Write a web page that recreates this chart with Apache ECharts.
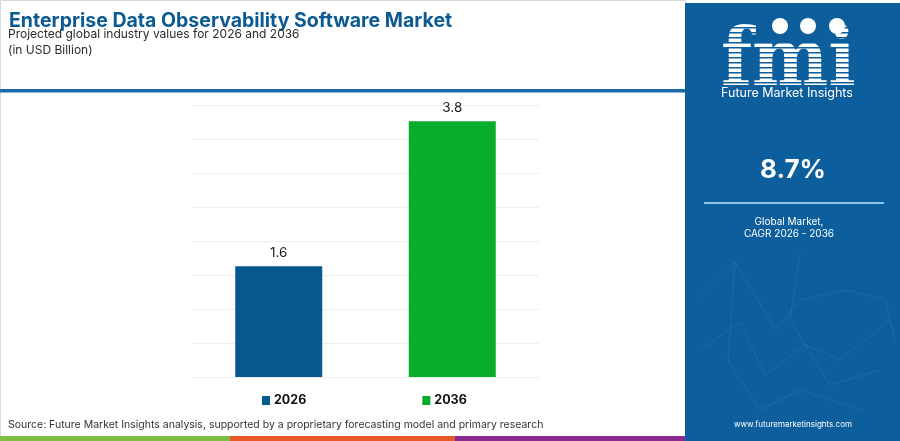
<!DOCTYPE html>
<html>
<head>
<meta charset="utf-8">
<script src="https://cdn.jsdelivr.net/npm/echarts@6/dist/echarts.min.js"></script>
<style>
html,body{margin:0;padding:0;background:#fff;}
#chart{width:900px;height:441px;}
</style>
</head>
<body>
<div id="chart"></div>
<script>
const categories = ['2026', '2036'];
const values2026 = [1.63, '-'];
const values2036 = ['-', 3.76];
const seriesNames = ['2026', '2036'];
const cagrText = '8.7%';

const FONT = 'Inter, "Noto Sans", sans-serif';
const chart = echarts.init(document.getElementById('chart'), null, {renderer: 'canvas'});

const panelBlue = '#0c5f9c';
const net = 'rgba(255,255,255,0.07)';
const graphics = [
  {type: 'rect', shape: {x: 0.5, y: 0.5, width: 685, height: 440}, style: {fill: '#fff', stroke: '#d8d8d8', lineWidth: 1}, z: -10},
  {type: 'rect', shape: {x: 0, y: 89, width: 686, height: 3.5}, style: {fill: '#1b6aa6'}},
  {type: 'text', left: 9, top: 11, style: {text: 'Enterprise Data Observability Software Market', fill: '#0b5a91', font: 'bold 19.5px ' + FONT}},
  {type: 'text', left: 8, top: 28, style: {text: 'Projected global industry values for 2026 and 2036', fill: '#2a2a2a', font: '12px ' + FONT}},
  {type: 'text', left: 8, top: 44, style: {text: '(in USD Billion)', fill: '#2a2a2a', font: '12px ' + FONT}},
  {type: 'text', left: 8, top: 419, style: {text: 'Source: Future Market Insights analysis, supported by a proprietary forecasting model and primary research', fill: '#333', font: '10.5px ' + FONT}},
  {type: 'rect', shape: {x: 0, y: 436, width: 230, height: 5}, style: {fill: '#7cbd42'}},
  {type: 'rect', shape: {x: 230, y: 436, width: 225, height: 5}, style: {fill: '#e65a2a'}},
  {type: 'rect', shape: {x: 455, y: 436, width: 231, height: 5}, style: {fill: '#8a2a8c'}},
  {type: 'rect', shape: {x: 685, y: 3, width: 215, height: 438}, style: {fill: panelBlue}},
  {type: 'polyline', shape: {points: [[697,300],[735,262],[776,330],[800,300],[848,290],[885,300],[895,340]]}, style: {stroke: net, lineWidth: 1, fill: null}},
  {type: 'polyline', shape: {points: [[700,350],[740,322],[765,375],[805,345],[840,360],[890,320]]}, style: {stroke: net, lineWidth: 1, fill: null}},
  {type: 'polyline', shape: {points: [[735,262],[728,360],[760,410],[800,390],[860,410]]}, style: {stroke: net, lineWidth: 1, fill: null}},
  {type: 'polyline', shape: {points: [[800,253],[790,320],[830,385],[880,370]]}, style: {stroke: net, lineWidth: 1, fill: null}},
  {type: 'text', x: 721, y: 24, scaleX: 0.9, style: {text: 'fmi', fill: '#fff', font: 'bold 80px "DejaVu Serif", serif', verticalAlign: 'top'}},
  ...Array.from({length: 12}, (_, i) => ({type: 'rect', shape: {x: 715, y: 27 + i * 5, width: 145, height: 1.4}, style: {fill: panelBlue}})),
  {type: 'circle', shape: {cx: 780, cy: 26, r: 8}, style: {fill: '#fff'}},
  {type: 'circle', shape: {cx: 808, cy: 26, r: 8}, style: {fill: '#fff'}},
  {type: 'circle', shape: {cx: 837, cy: 26, r: 8}, style: {fill: '#fff'}},
  {type: 'text', x: 787, y: 93, style: {text: 'Future Market Insights', fill: '#fff', font: '12.5px ' + FONT, align: 'center', verticalAlign: 'middle'}},
  {type: 'text', x: 793, y: 170, style: {text: cagrText, fill: '#fff', font: 'bold 26px ' + FONT, align: 'center', verticalAlign: 'middle'}},
  {type: 'rect', shape: {x: 704, y: 202, width: 180, height: 2}, style: {fill: '#8cc4ec'}},
  {type: 'text', x: 789, y: 222, style: {text: 'Global Market,', fill: '#fff', font: '10px ' + FONT, align: 'center', verticalAlign: 'middle'}},
  {type: 'text', x: 789, y: 234, style: {text: 'CAGR 2026 - 2036', fill: '#fff', font: '10px ' + FONT, align: 'center', verticalAlign: 'middle'}},
  {type: 'text', x: 793, y: 425, style: {text: 'www.futuremarketinsights.com', fill: '#fff', font: '8px ' + FONT, align: 'center', verticalAlign: 'middle'}}
];

const option = {
  animation: false,
  backgroundColor: '#fff',
  textStyle: {fontFamily: FONT},
  grid: {left: 192, right: 361, top: 105, bottom: 64, containLabel: false},
  legend: {
    data: seriesNames,
    left: 257, top: 389,
    itemWidth: 8, itemHeight: 9, itemGap: 116,
    icon: 'rect',
    textStyle: {fontFamily: FONT, fontWeight: 'bold', fontSize: 12.5, color: '#111', padding: [0, 0, 0, -1]}
  },
  xAxis: {
    type: 'category', data: categories,
    axisLine: {show: false}, axisTick: {show: false}, axisLabel: {show: false}
  },
  yAxis: {
    type: 'value', min: 0, max: 4, interval: 0.5,
    axisLabel: {show: false}, axisLine: {show: false}, axisTick: {show: false},
    splitLine: {lineStyle: {color: '#eeeeee', width: 1}}
  },
  series: [
    {name: seriesNames[0], type: 'bar', stack: 'all', data: values2026, barWidth: 87,
     itemStyle: {color: '#05598f'},
     label: {show: true, position: 'top', distance: 6, color: '#222', fontSize: 13.5, fontFamily: FONT,
             formatter: p => Number(p.value).toFixed(1)}},
    {name: seriesNames[1], type: 'bar', stack: 'all', data: values2036, barWidth: 87,
     itemStyle: {color: '#08ad2c'},
     label: {show: true, position: 'top', distance: 6, color: '#222', fontSize: 13.5, fontFamily: FONT,
             formatter: p => Number(p.value).toFixed(1)}}
  ],
  graphic: graphics
};
chart.setOption(option);
</script>
</body>
</html>
